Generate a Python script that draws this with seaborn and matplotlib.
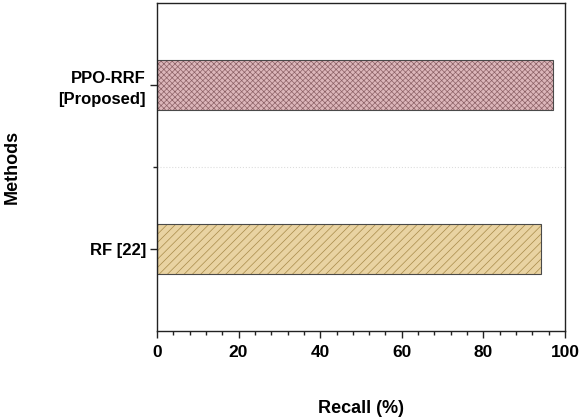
import matplotlib
matplotlib.use("Agg")
import matplotlib.pyplot as plt
from matplotlib.ticker import MultipleLocator, FixedLocator
import seaborn as sns
import pandas as pd

# values
methods = ["PPO-RRF\n[Proposed]", "RF [22]"]
recall = [97.1, 94.0]
fill_colors = ["#e2b0b5", "#f5d796"]
hatch_colors = ["#8c6166", "#a88a48"]
hatches = ["xxxxxx", "////"]

df = pd.DataFrame({"Method": methods, "Recall": recall})

sns.set_style("white")
plt.rcParams["font.family"] = ["Liberation Sans", "DejaVu Sans"]
plt.rcParams["font.weight"] = "bold"
plt.rcParams["text.color"] = "black"
plt.rcParams["axes.labelcolor"] = "black"
plt.rcParams["xtick.color"] = "black"
plt.rcParams["ytick.color"] = "black"
plt.rcParams["hatch.linewidth"] = 0.5

fig = plt.figure(figsize=(5.79, 4.17), dpi=100)
ax = fig.add_axes([0.271, 0.206, 0.705, 0.787])

sns.barplot(data=df, x="Recall", y="Method", hue="Method", palette=fill_colors,
            orient="h", width=0.3, edgecolor="#4a4a4a", linewidth=0.8,
            legend=False, ax=ax)

for bar, h, hc in zip(ax.patches, hatches, hatch_colors):
    bar.set_hatch(h)
    bar._hatch_color = matplotlib.colors.to_rgba(hc)

ax.set_xlim(0, 100)
ax.set_ylim(1.5, -0.5)
ax.xaxis.set_major_locator(MultipleLocator(20))
ax.xaxis.set_minor_locator(MultipleLocator(4))
ax.yaxis.set_minor_locator(FixedLocator([0.5]))

# faint dotted separator between the two methods
ax.axhline(0.5, color="#dddddd", lw=0.8, ls=":", zorder=0)

for s in ax.spines.values():
    s.set_color("#222222")
    s.set_linewidth(1.0)

ax.tick_params(axis="both", which="major", direction="out", length=5, width=1,
               color="#222222", bottom=True, left=True)
ax.tick_params(axis="both", which="minor", direction="out", length=3, width=1,
               color="#222222", bottom=True, left=True)
ax.tick_params(axis="x", labelsize=12.5, pad=5)
ax.tick_params(axis="y", labelsize=12, pad=3)
for lab in ax.get_yticklabels():
    lab.set_multialignment("right")
    lab.set_linespacing(1.5)

ax.set_xlabel("Recall (%)", fontsize=13, fontweight="bold", labelpad=29)
ax.set_ylabel("Methods", fontsize=13, fontweight="bold", labelpad=27)

fig.savefig("out.png", dpi=100)
